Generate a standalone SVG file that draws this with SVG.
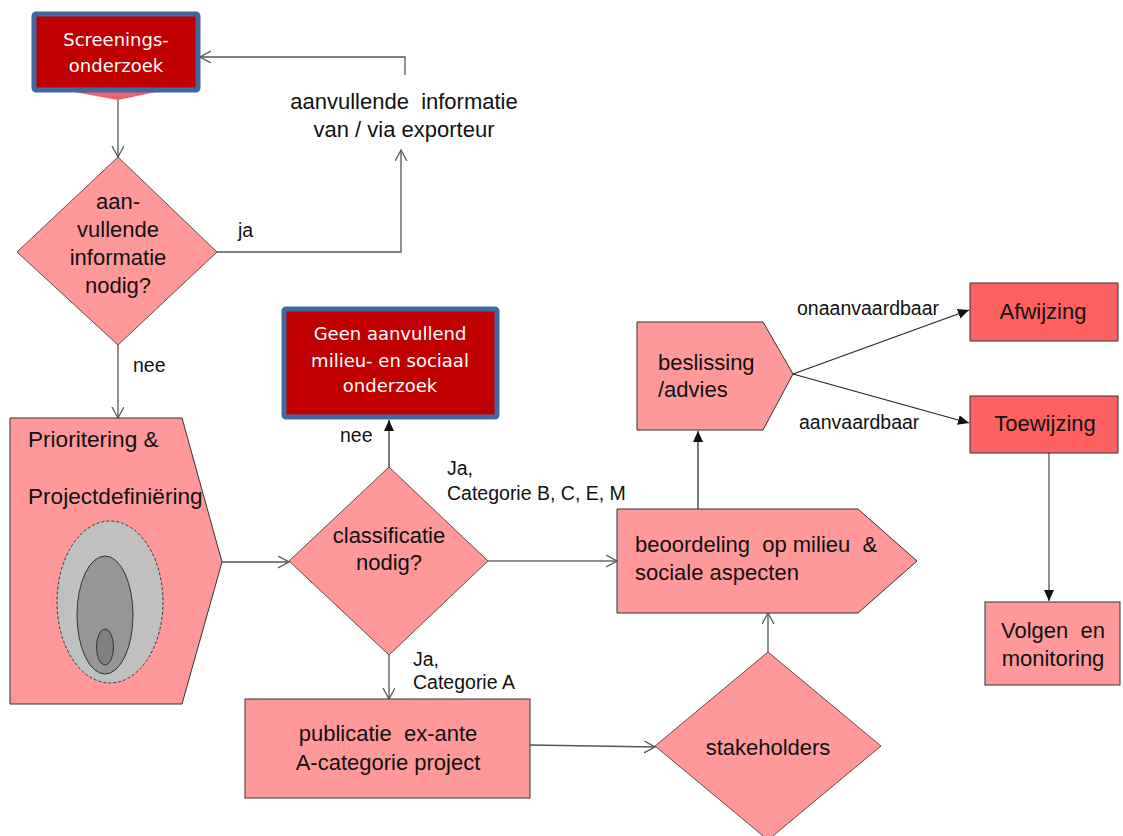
<svg xmlns="http://www.w3.org/2000/svg" width="1123" height="836" viewBox="0 0 1123 836">
<style>
.t{font-family:"Liberation Sans",Arial,sans-serif;font-size:22px;fill:#111}
.l{font-family:"Liberation Sans",Arial,sans-serif;font-size:19.5px;fill:#111}
.w{font-family:"DejaVu Sans",Verdana,sans-serif;font-size:18px;fill:#fff}
.pink{fill:#FF9999;stroke:#333;stroke-width:1}
.dia{fill:#FF9999;stroke:#6b4a4a;stroke-width:1}
.red{fill:#FF6161;stroke:#333;stroke-width:1}
.dark{fill:#C00000;stroke:#41699F;stroke-width:5}
.c{fill:none;stroke:#555;stroke-width:1.3}
.cb{fill:none;stroke:#222;stroke-width:1.2}
</style>
<defs>
<marker id="open" markerUnits="userSpaceOnUse" markerWidth="14" markerHeight="14" refX="11" refY="6" orient="auto">
<path d="M0,0 L11,6 L0,12" fill="none" stroke="#555" stroke-width="1.3"/>
</marker>
<marker id="fill" markerUnits="userSpaceOnUse" markerWidth="14" markerHeight="14" refX="11" refY="5" orient="auto">
<path d="M0,0 L11,5 L0,10 Z" fill="#111"/>
</marker>
</defs>
<rect width="1123" height="836" fill="#fff"/>

<g id="connectors">
<line class="c" x1="118" y1="100" x2="118" y2="157" marker-end="url(#open)"/>
<polyline class="c" points="217,252 401,252 401,150" marker-end="url(#open)"/>
<polyline class="c" points="405,75 405,57 200,57" marker-end="url(#open)"/>
<line class="c" x1="118" y1="345" x2="118" y2="418" marker-end="url(#open)"/>
<line class="c" x1="222" y1="562" x2="289" y2="562" marker-end="url(#open)"/>
<line class="cb" x1="389" y1="467" x2="389" y2="420" marker-end="url(#fill)"/>
<line class="cb" x1="488" y1="561" x2="617" y2="561" marker-end="url(#open)"/>
<line class="c" x1="389" y1="655" x2="389" y2="699" marker-end="url(#open)"/>
<line class="c" x1="530" y1="745" x2="655" y2="747" marker-end="url(#open)"/>
<line class="c" x1="768" y1="652" x2="768" y2="613" marker-end="url(#open)"/>
<line class="cb" x1="698" y1="509" x2="698" y2="431" marker-end="url(#fill)"/>
<line class="cb" x1="793" y1="374" x2="969" y2="310" marker-end="url(#fill)"/>
<line class="cb" x1="793" y1="374" x2="969" y2="423" marker-end="url(#fill)"/>
<line class="c" x1="1049" y1="453" x2="1049" y2="601" marker-end="url(#fill)"/>
<text class="l" x="238" y="237">ja</text>
<text class="l" x="133" y="372">nee</text>
<text class="l" x="340" y="442">nee</text>
<text class="l" x="447" y="475">Ja,</text>
<text class="l" x="447" y="500">Categorie B, C, E, M</text>
<text class="l" x="413" y="666">Ja,</text>
<text class="l" x="413" y="689">Categorie A</text>
<text class="l" x="797" y="315">onaanvaardbaar</text>
<text class="l" x="799" y="429">aanvaardbaar</text>
</g>

<g id="screening">
<polygon points="74,92 156,92 118,100" fill="#F0606B"/>
<rect class="dark" x="34" y="14" width="164" height="76" rx="2"/>
<text class="w" x="116" y="46" text-anchor="middle">Screenings-</text>
<text class="w" x="116" y="72" text-anchor="middle">onderzoek</text>
</g>

<g id="aanvullende-info">
<text class="t" x="404" y="109" text-anchor="middle" xml:space="preserve">aanvullende  informatie</text>
<text class="t" x="404" y="137" text-anchor="middle">van / via exporteur</text>
</g>

<g id="diamond-info">
<polygon class="dia" points="118,157 217,252 118,345 17,252"/>
<text class="t" x="118" y="209" text-anchor="middle">aan-</text>
<text class="t" x="118" y="237" text-anchor="middle">vullende</text>
<text class="t" x="118" y="265" text-anchor="middle">informatie</text>
<text class="t" x="118" y="293" text-anchor="middle">nodig?</text>
</g>

<g id="prioritering">
<polygon class="pink" points="10,418 182,418 222,562 182,704 10,704"/>
<text class="t" x="28" y="447" style="font-size:22.6px">Prioritering &amp;</text>
<text class="t" x="28" y="504" style="font-size:22.6px">Projectdefiniëring</text>
<ellipse cx="110" cy="602" rx="53" ry="81" fill="#C0C0C0" stroke="#333" stroke-width="1" stroke-dasharray="3,2"/>
<ellipse cx="105" cy="615" rx="28" ry="59" fill="#969696" stroke="#333" stroke-width="1"/>
<ellipse cx="105" cy="647" rx="8.5" ry="18" fill="#808080" stroke="#333" stroke-width="1"/>
</g>

<g id="geen">
<rect class="dark" x="284" y="309" width="213" height="108" rx="2"/>
<text class="w" x="390" y="340" text-anchor="middle">Geen aanvullend</text>
<text class="w" x="390" y="367" text-anchor="middle">milieu- en sociaal</text>
<text class="w" x="390" y="392" text-anchor="middle">onderzoek</text>
</g>

<g id="classificatie">
<polygon class="dia" points="389,467 488,561 389,655 289,561"/>
<text class="t" x="389" y="543" text-anchor="middle">classificatie</text>
<text class="t" x="389" y="570" text-anchor="middle">nodig?</text>
</g>

<g id="publicatie">
<rect class="pink" x="245" y="699" width="285" height="99"/>
<text class="t" x="388" y="741" text-anchor="middle" xml:space="preserve">publicatie  ex-ante</text>
<text class="t" x="388" y="770" text-anchor="middle">A-categorie project</text>
</g>

<g id="stakeholders">
<polygon class="dia" points="768,652 881,746 768,840 655,746"/>
<text class="t" x="768" y="755" text-anchor="middle">stakeholders</text>
</g>

<g id="beoordeling">
<polygon class="pink" points="617,509 858,509 917,561 858,613 617,613"/>
<text class="t" x="635" y="552" xml:space="preserve">beoordeling  op milieu  &amp;</text>
<text class="t" x="635" y="580">sociale aspecten</text>
</g>

<g id="beslissing">
<polygon class="pink" points="637,322 763,322 793,374 763,430 637,430"/>
<text class="t" x="658" y="370">beslissing</text>
<text class="t" x="658" y="397">/advies</text>
</g>

<g id="afwijzing">
<rect class="red" x="970" y="283" width="148" height="58"/>
<text class="t" x="1043" y="319" text-anchor="middle">Afwijzing</text>
</g>

<g id="toewijzing">
<rect class="red" x="970" y="396" width="148" height="57"/>
<text class="t" x="1045" y="431" text-anchor="middle">Toewijzing</text>
</g>

<g id="volgen">
<rect class="pink" x="985" y="602" width="135" height="83"/>
<text class="t" x="1053" y="638" text-anchor="middle" xml:space="preserve">Volgen  en</text>
<text class="t" x="1053" y="666" text-anchor="middle">monitoring</text>
</g>
</svg>
